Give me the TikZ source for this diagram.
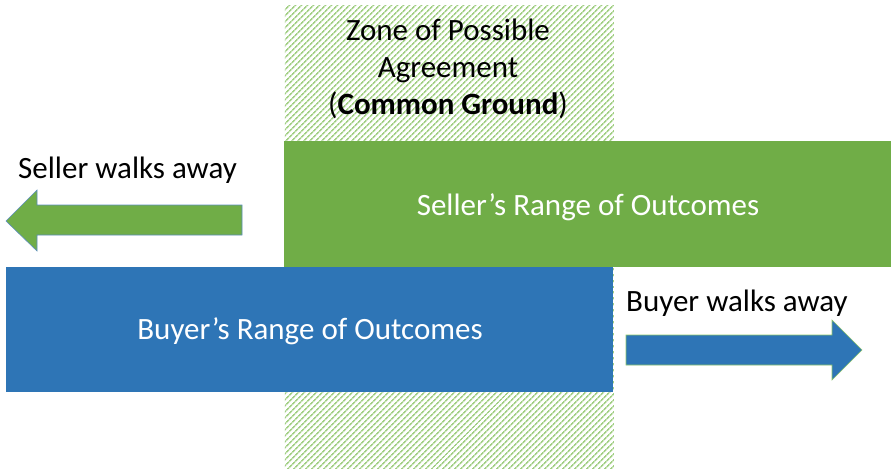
\documentclass[tikz,border=0pt]{standalone}
\usepackage{fontspec}
\setmainfont{Carlito}
\usetikzlibrary{patterns.meta}
\definecolor{sgreen}{HTML}{70AD47}
\definecolor{bblue}{HTML}{2E75B6}
\definecolor{hatch}{HTML}{A2CF84}
\definecolor{aedge}{HTML}{5B8DBE}
\definecolor{bedge}{HTML}{8CC56A}
\begin{document}
\begin{tikzpicture}[x=1pt,y=-1pt,
  txt/.style={font=\fontsize{31}{37}\selectfont, inner sep=0pt},
  rangebox/.style={inner sep=0pt, anchor=north west}]
\useasboundingbox (0,0) rectangle (891,469);
% zone of possible agreement
\node[anchor=north west, minimum width=329pt, minimum height=463pt, inner sep=0pt,
      pattern={Lines[angle=45,distance=4pt,line width=1.7pt]}, pattern color=hatch] (zone) at (284,5) {};
\node[txt, align=center] (zonetext) at (448,69) {Zone of Possible\\Agreement\\(\textbf{Common Ground})};
% ranges
\node[rangebox, fill=sgreen, minimum width=607pt, minimum height=126pt] (seller) at (284,141) {};
\node[txt, text=white] (sellertext) at (588,207) {Seller’s Range of Outcomes};
\node[rangebox, fill=bblue, minimum width=607pt, minimum height=125pt] (buyer) at (6,267) {};
\node[txt, text=white] (buyertext) at (310,331) {Buyer’s Range of Outcomes};
% walk away labels
\node[txt, anchor=west] (sellerwalk) at (18,170) {Seller walks away};
\node[txt, anchor=west] (buyerwalk) at (626,303) {Buyer walks away};
% arrows
\draw[fill=sgreen, draw=aedge, line width=0.6pt]
  (242,205) -- (37,205) -- (37,190) -- (6,221) -- (37,251) -- (37,235) -- (242,235) -- cycle;
\draw[fill=bblue, draw=bedge, line width=0.6pt]
  (626,335) -- (832,335) -- (832,320) -- (862,350) -- (832,380) -- (832,365) -- (626,365) -- cycle;
\end{tikzpicture}
\end{document}
